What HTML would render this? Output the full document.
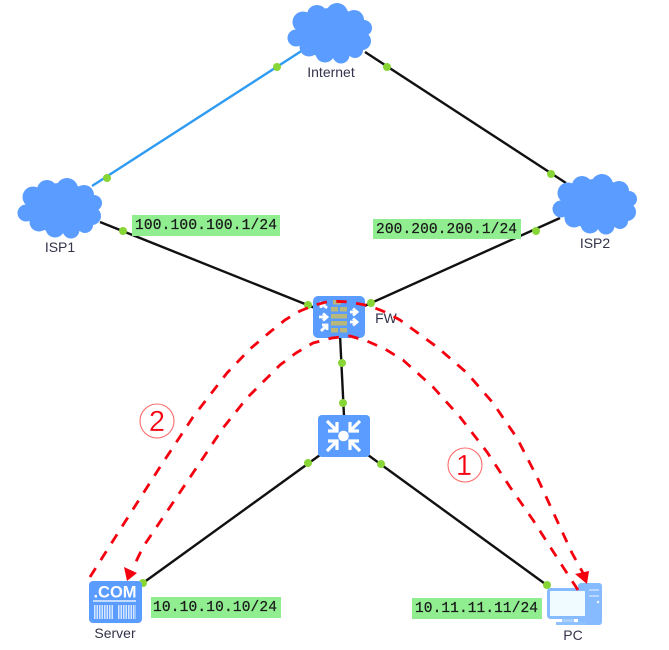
<!DOCTYPE html>
<html><head><meta charset="utf-8"><style>
html,body{margin:0;padding:0;background:#fff}
svg{display:block}
.l{font-family:"Liberation Sans",sans-serif;font-size:14px;fill:#33334a;text-anchor:middle}
.m{font-family:"Liberation Mono",monospace;font-size:14.5px;fill:#1a1a1a;stroke:#1a1a1a;stroke-width:.25}
</style></head><body>
<svg width="669" height="650" viewBox="0 0 669 650" xmlns="http://www.w3.org/2000/svg">
<defs>
<g id="c" fill="#5a9cff">
<ellipse cx="44" cy="30" rx="35" ry="25"/>
<circle cx="16" cy="19" r="10.500"/><circle cx="30" cy="12" r="10"/><circle cx="50" cy="11" r="11"/><circle cx="67" cy="17" r="10"/><circle cx="77" cy="25" r="8"/><circle cx="75" cy="38" r="9"/><circle cx="68" cy="47" r="8"/><circle cx="54" cy="52" r="8.500"/><circle cx="38" cy="50" r="9.500"/><circle cx="22" cy="44" r="9.500"/><circle cx="9" cy="35" r="8.500"/>
</g>
</defs>
<g stroke-width="2.4" fill="none">
<line x1="303" y1="50" x2="92" y2="186" stroke="#2f9bf2"/>
<g stroke="#111">
<line x1="365" y1="52" x2="566" y2="183"/>
<line x1="100" y1="222" x2="315" y2="308"/>
<line x1="560" y1="218" x2="360" y2="308"/>
<line x1="340" y1="335" x2="344" y2="416"/>
<line x1="320" y1="455" x2="143" y2="583"/>
<line x1="368" y1="455" x2="548" y2="586"/>
</g></g>
<use href="#c" x="287" y="3"/>
<use href="#c" x="17" y="178"/>
<use href="#c" x="552" y="174"/>
<g fill="#88d636">
<circle cx="277" cy="67" r="4"/><circle cx="107" cy="178" r="4"/><circle cx="387" cy="67" r="4"/><circle cx="551" cy="174" r="4"/><circle cx="123" cy="231" r="4"/><circle cx="536" cy="231" r="4"/><circle cx="308" cy="305" r="4"/><circle cx="371" cy="303" r="4"/><circle cx="342" cy="363" r="4"/><circle cx="343" cy="403" r="4"/><circle cx="308" cy="463" r="4"/><circle cx="381" cy="464" r="4"/><circle cx="143" cy="583" r="4"/><circle cx="547" cy="585" r="4"/>
</g>
<!-- FW -->
<rect x="313" y="296" width="52" height="42" rx="5" fill="#5a9cff"/>
<g fill="#b8b87c">
<rect x="333" y="300" width="8" height="4.500"/>
<rect x="331" y="307" width="7" height="4.500"/><rect x="340" y="307" width="7" height="4.500"/>
<rect x="331" y="314" width="16" height="4.500"/>
<rect x="331" y="321" width="16" height="4.500"/>
<rect x="331" y="328" width="7" height="4.500"/><rect x="340" y="328" width="7" height="4.500"/>
</g>
<g stroke="#fff" stroke-width="2.800" fill="none">
<path d="M327 308L322 304M321 308V303H326"/>
<path d="M319 317H326M323 313.500L327 317L323 320.500"/>
<path d="M321 331L326 326M322 325H327V330"/>
<path d="M350 312H356M353 308.500L357 312L353 315.500"/>
<path d="M350 322H356M353 318.500L357 322L353 325.500"/>
</g>
<!-- Switch -->
<rect x="318" y="415" width="52" height="42" rx="4" fill="#5a9cff"/>
<g stroke="#fff" stroke-width="3.200" fill="none">
<path d="M327 421L336 430M337 422V431H328"/>
<path d="M360 421L351 430M350 422V431H359"/>
<path d="M327 451L336 442M337 450V441H328"/>
<path d="M360 451L351 442M350 450V441H359"/>
</g>
<circle cx="343.500" cy="436" r="5.300" fill="#fff"/>
<!-- Server -->
<rect x="89" y="581" width="53" height="42" rx="4" fill="#5a9cff"/>
<text x="115" y="597.500" font-family="Liberation Sans,sans-serif" font-weight="bold" font-size="16.500" fill="#fff" text-anchor="middle">.COM</text>
<line x1="93" y1="601" x2="136" y2="601" stroke="#e8f2ff" stroke-width="1.600"/>
<g stroke="#d5e7ff" stroke-width="14" stroke-dasharray="1.500 1">
<line x1="94" y1="612" x2="113" y2="612"/><line x1="118" y1="612" x2="136" y2="612"/>
</g>
<!-- PC -->
<rect x="578" y="583" width="24" height="42" rx="3" fill="#86bbff"/>
<line x1="589" y1="590" x2="599" y2="590" stroke="#c8e0ff" stroke-width="1.500"/>
<line x1="589" y1="596" x2="599" y2="596" stroke="#c8e0ff" stroke-width="1.500"/>
<circle cx="598" cy="602" r="1.300" fill="#e8f2ff"/>
<rect x="562" y="618" width="12" height="4" fill="#a8d0ff"/>
<rect x="556" y="622" width="30" height="3" fill="#8fc0ff"/>
<rect x="548.500" y="589.500" width="38" height="28" rx="2" fill="#f0fbff" stroke="#86bbff" stroke-width="3"/>
<!-- labels -->
<g fill="#90ee90">
<rect x="132" y="215" width="148" height="21"/>
<rect x="373" y="219" width="148" height="20"/>
<rect x="151" y="597" width="130" height="21"/>
<rect x="412" y="598" width="130" height="21"/>
</g>
<text class="m" x="135" y="229" textLength="142" lengthAdjust="spacing">100.100.100.1/24</text>
<text class="m" x="376" y="233" textLength="141" lengthAdjust="spacing">200.200.200.1/24</text>
<text class="m" x="153" y="611" textLength="124" lengthAdjust="spacing">10.10.10.10/24</text>
<text class="m" x="415" y="612" textLength="123" lengthAdjust="spacing">10.11.11.11/24</text>
<text class="l" x="331" y="77">Internet</text>
<text class="l" x="60" y="252">ISP1</text>
<text class="l" x="595" y="248">ISP2</text>
<text class="l" x="386" y="323">FW</text>
<text class="l" x="115" y="638">Server</text>
<text class="l" x="573" y="640">PC</text>
<!-- red curves -->
<g fill="none" stroke="#f5000f" stroke-width="2.800" stroke-dasharray="10.500 9.500" stroke-linejoin="round">
<polyline points="90,577 97,566 123,525 160,467 193,417 227,373 250,349 270,332 285,320 300,311 315,305 330,301 350,302 370,306 385,312 400,320 437,347 467,373 493,403 517,438 537,477 560,527 572,553 583,573"/>
<polyline points="578,590 563,567 533,520 510,487 487,452 460,417 433,387 403,360 385,349 367,341 350,336 332,338 313,343 296,353 280,365 247,398 223,428 197,467 168,510 143,547 133,568"/>
</g>
<polygon points="587,584 575,574 589,571" fill="#f5000f"/>
<polygon points="127,581 124,567 137,573" fill="#f5000f"/>
<!-- numbers -->
<circle cx="157" cy="421" r="17" fill="none" stroke="#ff6a6a" stroke-width="1.100"/>
<text x="157" y="431" font-family="Liberation Sans,sans-serif" font-size="29" fill="#f5000f" stroke="#fff" stroke-width=".3" text-anchor="middle">2</text>
<circle cx="465" cy="465" r="17" fill="none" stroke="#ff6a6a" stroke-width="1.100"/>
<text x="464" y="475" font-family="Liberation Sans,sans-serif" font-size="29" fill="#f5000f" stroke="#fff" stroke-width=".3" text-anchor="middle">1</text>
</svg>
</body></html>
